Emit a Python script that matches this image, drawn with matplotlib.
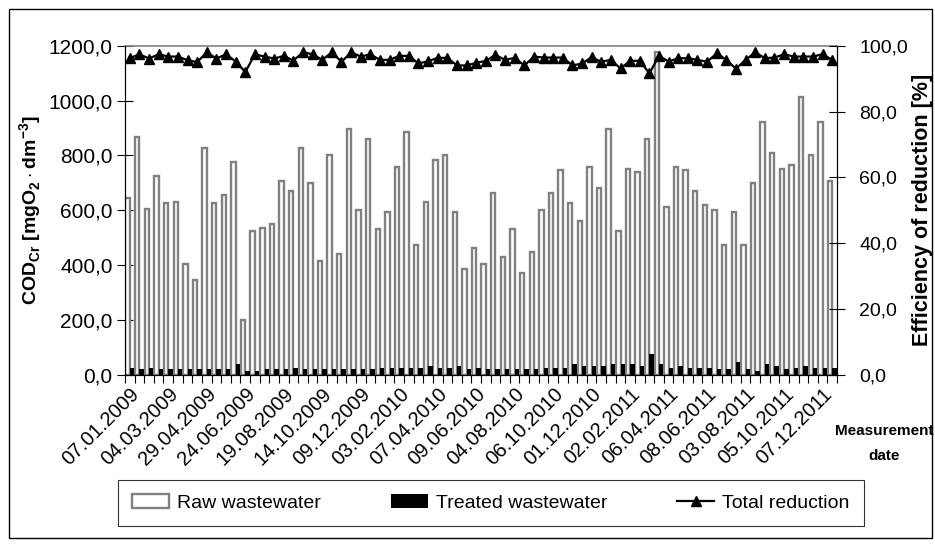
import matplotlib
matplotlib.use("Agg")
import matplotlib.pyplot as plt
import numpy as np
from matplotlib.ticker import FuncFormatter, FixedLocator
from matplotlib.patches import Rectangle
from matplotlib.transforms import ScaledTranslation

plt.rcParams["font.family"] = ["Liberation Sans", "DejaVu Sans"]
plt.rcParams["mathtext.fontset"] = "custom"
plt.rcParams["mathtext.rm"] = "Liberation Sans"
plt.rcParams["mathtext.bf"] = "Liberation Sans:bold"

# Raw wastewater COD [mgO2/dm3], one value per measurement
raw = [645, 868, 605, 725, 627, 630, 404, 346, 828, 627,
       656, 775, 200, 526, 536, 550, 707, 670, 827, 700,
       415, 802, 441, 896, 600, 860, 531, 594, 758, 884,
       474, 630, 783, 800, 594, 385, 462, 403, 663, 430,
       531, 372, 447, 600, 663, 746, 626, 561, 757, 680,
       895, 525, 749, 738, 859, 1178, 611, 757, 746, 669,
       618, 600, 472, 594, 472, 700, 921, 808, 749, 765,
       1012, 802, 921, 707]

# Treated wastewater COD
treated = [27, 21, 27, 22, 22, 22, 22, 22, 22, 22,
           22, 39, 15, 15, 22, 22, 22, 27, 22, 21,
           22, 22, 21, 21, 21, 21, 27, 27, 27, 27,
           27, 33, 27, 27, 33, 21, 27, 21, 21, 21,
           21, 21, 21, 27, 27, 27, 39, 33, 33, 33,
           39, 39, 39, 33, 75, 39, 27, 33, 27, 27,
           27, 21, 21, 46, 21, 15, 39, 33, 21, 27,
           33, 27, 27, 27]

# Total reduction efficiency [%]
efficiency = [96.2, 97.4, 96.1, 97.4, 96.7, 96.7, 95.6, 95.0, 98.0, 96.1,
              97.4, 95.2, 92.0, 97.4, 96.7, 96.1, 96.9, 95.5, 98.0, 97.4,
              95.7, 98.0, 95.1, 98.0, 96.7, 97.4, 95.7, 95.7, 96.9, 96.9,
              94.6, 95.3, 96.3, 96.3, 94.0, 94.0, 94.8, 95.4, 97.2, 95.7,
              96.3, 94.0, 96.7, 96.4, 96.4, 96.4, 94.0, 94.6, 96.5, 95.1,
              95.7, 93.1, 95.4, 95.4, 91.6, 96.9, 95.2, 96.2, 96.2, 95.7,
              95.1, 97.7, 95.7, 93.0, 95.7, 98.0, 96.2, 96.4, 97.4, 96.7,
              96.7, 96.7, 97.4, 95.7]

# Dates shown on the category axis (every 4th measurement)
date_labels = ["07.01.2009", "04.03.2009", "29.04.2009", "24.06.2009",
               "19.08.2009", "14.10.2009", "09.12.2009", "03.02.2010",
               "07.04.2010", "09.06.2010", "04.08.2010", "06.10.2010",
               "01.12.2010", "02.02.2011", "06.04.2011", "08.06.2011",
               "03.08.2011", "05.10.2011", "07.12.2011"]

x = np.arange(len(raw))

fig = plt.figure(figsize=(9.35, 5.44), dpi=100)
ax = fig.add_axes([0.1337, 0.3107, 0.7615, 0.6053])

w = 0.46
ax.bar(x - 0.23, raw, width=w, facecolor="white", edgecolor="#808080",
       linewidth=1.7, label="Raw wastewater", zorder=2)
ax.bar(x + 0.23, treated, width=w, color="black", linewidth=0,
       label="Treated wastewater", zorder=3)

ax.set_xlim(-0.5, len(raw) - 0.5)
ax.set_ylim(0, 1200)
ax.set_yticks(np.arange(0, 1201, 200))
fmt = FuncFormatter(lambda v, p: f"{v:.1f}".replace(".", ","))
ax.yaxis.set_major_formatter(fmt)

# category ticks between bars, labels at every 4th category
ax.xaxis.set_minor_locator(FixedLocator(np.arange(-0.5, len(raw), 1.0)))
ax.set_xticks(x[::4])
ax.set_xticklabels(date_labels, rotation=45, ha="right",
                   rotation_mode="anchor", fontsize=14.5)
shift = ScaledTranslation(-0.06, 0, fig.dpi_scale_trans)
for lbl in ax.get_xticklabels():
    lbl.set_transform(lbl.get_transform() + shift)
ax.tick_params(axis="x", which="major", length=0, pad=7)
ax.tick_params(axis="x", which="minor", length=6, width=0.8, direction="out")
ax.tick_params(axis="y", length=12, width=0.8, direction="inout",
               labelsize=15, pad=3)

for side in ["left", "bottom", "right"]:
    ax.spines[side].set_color("black")
ax.spines["top"].set_color("#808080")
ax.spines["top"].set_linewidth(1.2)

ax.set_ylabel(r"COD$_{\mathbf{Cr}}$ [mgO$_{\mathbf{2}}\cdot$dm$^{\mathbf{-3}}$]",
              fontsize=14, fontweight="bold", labelpad=3)

ax2 = ax.twinx()
line, = ax2.plot(x, efficiency, color="black", linewidth=1.6, marker="^",
                 markersize=7, label="Total reduction", zorder=5)
ax2.set_ylim(0, 100)
ax2.set_yticks(np.arange(0, 101, 20))
ax2.yaxis.set_major_formatter(fmt)
ax2.tick_params(axis="y", length=12, width=0.8, direction="inout",
                labelsize=14, pad=10)
ax2.spines["top"].set_visible(False)
ax2.set_ylabel("Efficiency of reduction [%]", fontsize=15.5,
               fontweight="bold", labelpad=3)

fig.text(0.946, 0.184, "Measurement\ndate", ha="center", va="center",
         fontsize=11, fontweight="bold", linespacing=2.0)

handles = [ax.containers[0], ax.containers[1], line]
leg = fig.legend(handles, ["Raw wastewater", "Treated wastewater", "Total reduction"],
                 loc="center", bbox_to_anchor=(0.525, 0.0754), ncol=3,
                 fontsize=14, frameon=True, fancybox=False, edgecolor="black",
                 borderpad=0.75, columnspacing=3.6, handlelength=1.9,
                 handletextpad=0.4)
leg.get_frame().set_linewidth(0.8)

fig.patches.append(Rectangle((0.0096, 0.011), 0.987, 0.972, transform=fig.transFigure,
                             fill=False, edgecolor="black", linewidth=1))

fig.savefig("out.png", dpi=100)
